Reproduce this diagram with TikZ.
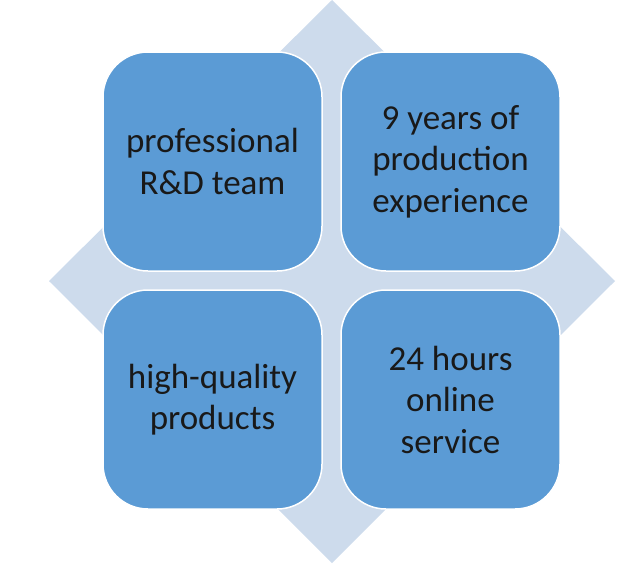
\documentclass[tikz,border=0pt]{standalone}
\usepackage{fontspec}
\setmainfont{Carlito}
\definecolor{boxblue}{RGB}{91,155,213}
\definecolor{diamondblue}{RGB}{205,219,236}
\begin{document}
\begin{tikzpicture}[x=1pt,y=-1pt,
  cell/.style={draw=white, line width=1.5pt, fill=boxblue, rounded corners=45pt,
    minimum width=219pt, minimum height=219pt, inner sep=0pt,
    align=center, font=\fontsize{35}{41.5}\selectfont, text=black!90}]
\useasboundingbox (0,0) rectangle (637,568);
\fill[diamondblue] (332,0) coordinate (dt) -- (615,281) coordinate (dr) -- (332,563) coordinate (db) -- (49,281) coordinate (dl) -- cycle;
\node[cell] (tl) at (212.5,161.5) {professional\\R\&D team};
\node[cell] (tr) at (450.5,161.5) {9 years of\\production\\experience};
\node[cell] (bl) at (212.5,399.5) {high-quality\\products};
\node[cell] (br) at (450.5,399.5) {24 hours\\online\\service};
\end{tikzpicture}
\end{document}
